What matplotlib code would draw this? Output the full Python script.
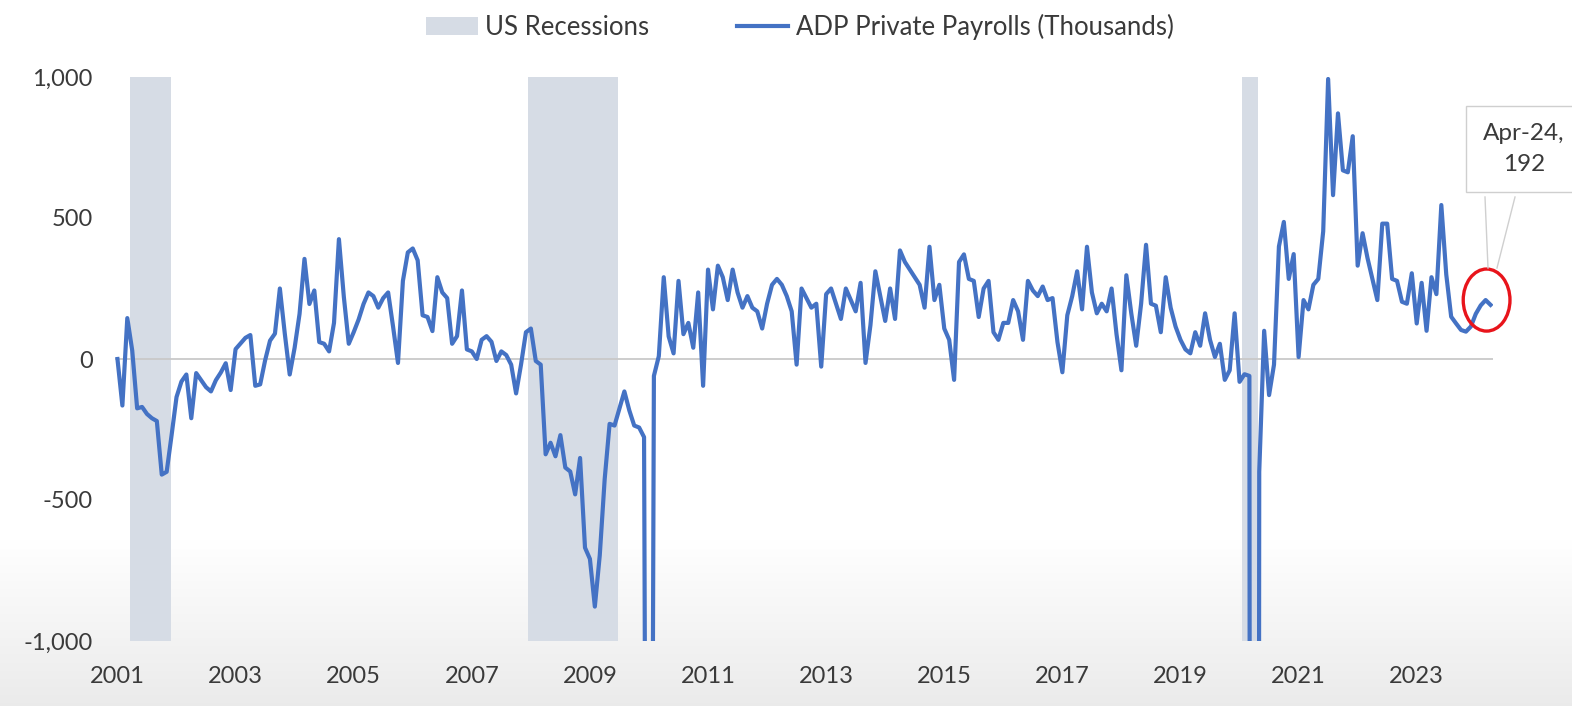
import numpy as np
import pandas as pd
import matplotlib
matplotlib.use('Agg')
import matplotlib.pyplot as plt
from matplotlib.patches import Ellipse, Patch
from matplotlib.lines import Line2D

plt.rcParams['font.family'] = ['Lato', 'DejaVu Sans']
plt.rcParams['axes.unicode_minus'] = False

# ---------------- data ----------------
start_month = '2001-01'
payrolls = [
    0, -165, 145, 30, -175, -170, -195, -210, -220, -410, -400, -270,          # 2001
    -135, -80, -55, -210, -50, -75, -100, -115, -75, -48, -15, -110,           # 2002
    35, 55, 75, 85, -95, -90, -5, 65, 90, 250, 90, -55,                       # 2003
    40, 160, 355, 195, 243, 60, 54, 27, 128, 425, 220, 54,                    # 2004
    95, 140, 195, 236, 223, 182, 216, 236, 115, -14, 277, 378,                # 2005
    392, 350, 155, 149, 99, 290, 236, 216, 54, 81, 243, 34,                   # 2006
    27, 0, 68, 81, 61, -7, 27, 14, -20, -122, -20, 95,                        # 2007
    108, -7, -20, -338, -297, -345, -270, -385, -399, -480, -351, -669,       # 2008
    -709, -878, -696, -426, -230, -236, -175, -115, -182, -236, -243, -277,   # 2009
    -5000, -60, 10, 290, 80, 20, 277, 88, 128, 40, 236, -95,                  # 2010
    317, 176, 331, 290, 209, 317, 236, 182, 223, 182, 169, 108,               # 2011
    196, 263, 284, 263, 223, 169, -20, 250, 216, 182, 196, -27,               # 2012
    230, 250, 196, 142, 250, 209, 169, 270, -14, 120, 311, 223,               # 2013
    135, 250, 142, 385, 344, 317, 290, 263, 182, 398, 209, 263,               # 2014
    108, 68, -74, 344, 371, 284, 277, 149, 250, 277, 95, 68,                  # 2015
    128, 128, 209, 169, 68, 277, 243, 223, 257, 209, 216, 60,                 # 2016
    -47, 155, 223, 311, 176, 398, 236, 162, 196, 169, 250, 88,                # 2017
    -40, 297, 162, 47, 196, 405, 196, 189, 95, 290, 182, 115,                 # 2018
    68, 34, 20, 95, 47, 162, 68, 7, 54, -74, -40, 162,                        # 2019
    -81, -54, -60, -19500, -400, 100, -128, -20, 399, 486, 284, 372,          # 2020
    7, 209, 176, 263, 284, 453, 993, 581, 871, 669, 662, 790,                 # 2021
    331, 446, 358, 284, 209, 480, 480, 284, 277, 203, 196, 304,               # 2022
    126, 270, 100, 290, 230, 546, 300, 150, 126, 103, 97, 115,                # 2023
    160, 190, 209, 192,                                                       # 2024
]
recessions = [('2001-04', '2001-11'), ('2008-01', '2009-06'), ('2020-02', '2020-04')]
tick_years = [2001, 2003, 2005, 2007, 2009, 2011, 2013, 2015, 2017, 2019, 2021, 2023]
y_ticks = [-1000, -500, 0, 500, 1000]
y_labels = ['-1,000', '-500', '0', '500', '1,000']
series_label = 'ADP Private Payrolls (Thousands)'
recession_label = 'US Recessions'

# ---------------- figure ----------------
months = pd.period_range(start_month, periods=len(payrolls), freq='M')
idx = np.arange(len(payrolls))

W, H = 1572, 706
fig = plt.figure(figsize=(W / 100, H / 100), dpi=100)

# soft screenshot-like gradient background
bg = fig.add_axes([0, 0, 1, 1], zorder=0)
rows = np.arange(H)
shade = np.where(rows < 540, 1.0, 1.0 - 0.08 * (rows - 540) / (H - 540))
grad = np.repeat(shade[:, None, None], 3, axis=2)
bg.imshow(grad, aspect='auto', extent=[0, 1, 0, 1], interpolation='bilinear')
bg.axis('off')

ax_left, ax_right, ax_top, ax_bot = 115.0, 1493.0, 77.0, 641.0
ax = fig.add_axes([ax_left / W, 1 - ax_bot / H, (ax_right - ax_left) / W, (ax_bot - ax_top) / H],
                  zorder=1)
ax.patch.set_alpha(0)

line_color = '#4472c4'
rec_color = '#d6dce5'
text_color = '#3a3a3a'

for a, b in recessions:
    i0 = months.get_loc(pd.Period(a, freq='M'))
    i1 = months.get_loc(pd.Period(b, freq='M'))
    ax.axvspan(i0 - 0.5, i1 + 0.8, color=rec_color, lw=0, zorder=0.5)

ax.axhline(0, color='#c9c9c9', lw=1.3, zorder=1)
ax.plot(idx, payrolls, color=line_color, lw=3.0, zorder=3, solid_joinstyle='round')

ax.set_xlim(-0.5, len(payrolls) - 0.5)
ax.set_ylim(-1000, 1000)
tick_pos = [months.get_loc(pd.Period(f'{y}-01', freq='M')) for y in tick_years]
ax.set_xticks(tick_pos)
ax.set_xticklabels([str(y) for y in tick_years])
ax.set_yticks(y_ticks)
ax.set_yticklabels(y_labels)
ax.tick_params(axis='both', length=0, labelsize=17, colors=text_color)
ax.tick_params(axis='y', pad=16)
ax.tick_params(axis='x', pad=18)
for s in ax.spines.values():
    s.set_visible(False)

# legend
handles = [Patch(facecolor=rec_color, edgecolor='none', label=recession_label),
           Line2D([], [], color=line_color, lw=3, label=series_label)]
fig.legend(handles=handles, loc='center', bbox_to_anchor=(0.509, 0.962), ncol=2,
           frameon=False, fontsize=18.5, handlelength=2.0, handletextpad=0.3,
           columnspacing=3.4, labelcolor=text_color)

# red highlight circle around the latest readings
last_i = idx[-1]
last_v = payrolls[-1]
ax.add_patch(Ellipse((last_i - 0.8, last_v + 17), width=9.5, height=220, fill=False,
                     edgecolor='#e8141b', lw=2.4, clip_on=False, zorder=5))

# callout
callout = f"{months[-1].strftime('%b-%y')},\n{last_v}"
fig.text(1524 / W, 1 - 149 / H, callout, ha='center', va='center', fontsize=17.5,
         color=text_color, linespacing=1.6, zorder=6,
         bbox=dict(boxstyle='square,pad=0.7', fc='white', ec='#cfcfcf', lw=1))
for (x0, y0, x1, y1) in [(1485, 197, 1488, 268), (1515, 197, 1497, 268)]:
    fig.add_artist(Line2D([x0 / W, x1 / W], [1 - y0 / H, 1 - y1 / H],
                          color='#cfcfcf', lw=1, zorder=6))

fig.savefig('out.png', dpi=100)
